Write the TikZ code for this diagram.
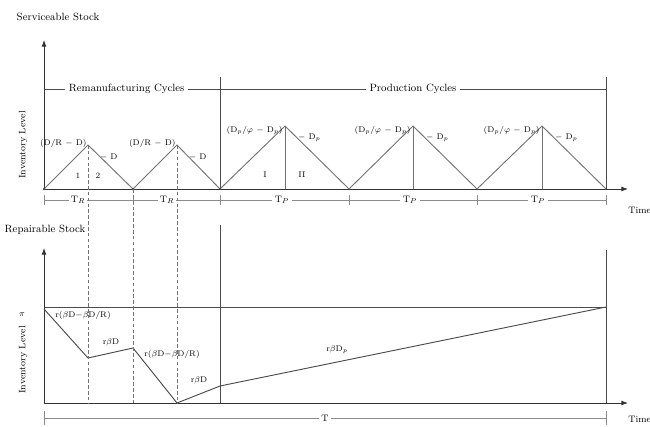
\documentclass[tikz,border=0pt]{standalone}
\usepackage{amsmath}
\usepackage{xcolor}
\usepackage{tikz}
\usetikzlibrary{arrows.meta,positioning}
\tikzset{
  axisline/.style={-{Latex[length=2mm]},thick,draw=black!80},
  stockline/.style={thick,draw=black!55},
  guideline/.style={densely dashed,draw=black!55},
  divider/.style={thick,draw=black!70},
  dimline/.style={thick,draw=black!45},
  lbl/.style={font=\scriptsize,inner sep=1pt},
  cyclbl/.style={font=\small,fill=white,inner sep=3pt},
  dimlbl/.style={font=\footnotesize,fill=white,inner sep=2pt}
}
\begin{document}
\begin{tikzpicture}[x=0.03cm,y=-0.03cm]
  \useasboundingbox (0,0) rectangle (650,427);

  % serviceable stock
  \node[font=\small] (servtitle) at (58,17) {Serviceable Stock};
  \node[font=\footnotesize,rotate=90] (servinv) at (23,145) {Inventory Level};
  \coordinate (so) at (44,189);
  \coordinate (sy) at (44,40);
  \coordinate (sx) at (628,189);
  \draw[axisline] (so) -- (sy);
  \draw[axisline] (so) -- (sx);

  % cycle header
  \coordinate (hl) at (44,89);
  \coordinate (hm) at (220,89);
  \coordinate (hr) at (606,89);
  \draw[divider] (220,77) -- (220,189);
  \draw[divider] (606,77) -- (606,189);
  \draw[divider] (hl) -- node[cyclbl,pos=0.47] (remcyc) {Remanufacturing Cycles} (hm);
  \draw[divider] (hm) -- node[cyclbl,pos=0.5] (prodcyc) {Production Cycles} (hr);

  % remanufacturing and production saw teeth
  \coordinate (r0) at (44,189);
  \coordinate (rp1) at (88,145);
  \coordinate (r1) at (133,189);
  \coordinate (rp2) at (177,145);
  \coordinate (r2) at (220,189);
  \coordinate (pp1) at (285,126);
  \coordinate (p1) at (349,189);
  \coordinate (pp2) at (413,126);
  \coordinate (p2) at (477,189);
  \coordinate (pp3) at (542,126);
  \coordinate (p3) at (606,189);
  \draw[stockline] (r0) -- (rp1) -- (r1) -- (rp2) -- (r2) -- (pp1) -- (p1)
    -- (pp2) -- (p2) -- (pp3) -- (p3);
  \foreach \pk in {pp1,pp2,pp3}
    \draw[stockline] (\pk) -- (\pk |- so);
  \foreach \vl in {r0,r1,r2}
    \fill[black!70] (\vl) circle (1.3);

  \foreach \pk/\nm in {rp1/a,rp2/b} {
    \node[lbl,left=0pt of \pk,yshift=1pt] (rl\nm) {(D/R $-$ D)};
    \node[lbl,right=9pt of \pk,yshift=-10pt] (rd\nm) {$-$ D};
  }
  \node[lbl] (one) at (78,176) {1};
  \node[lbl] (two) at (98,176) {2};
  \foreach \pk/\nm in {pp1/a,pp2/b,pp3/c} {
    \node[lbl,left=1pt of \pk,yshift=-4pt] (pl\nm) {(D$_p$/$\varphi$ $-$ D$_p$)};
    \node[lbl,right=10pt of \pk,yshift=-10pt] (pd\nm) {$-$ D$_p$};
  }
  \node[lbl] (ione) at (265,175) {I};
  \node[lbl] (itwo) at (302,175) {II};

  % cycle lengths
  \draw[dimline] (44,200) -- (606,200);
  \foreach \tx in {44,133,220,349,477,606}
    \draw[dimline] (\tx,195) -- (\tx,205);
  \node[dimlbl] (tr1) at (78,200) {T$_R$};
  \node[dimlbl] (tr2) at (167,200) {T$_R$};
  \node[dimlbl] (tp1) at (282,200) {T$_P$};
  \node[dimlbl] (tp2) at (410,200) {T$_P$};
  \node[dimlbl] (tp3) at (538,200) {T$_P$};
  \node[font=\footnotesize,anchor=west,inner sep=1pt] (stime) at (627,210) {Time};

  % repairable stock
  \node[font=\small] (reptitle) at (45,230) {Repairable Stock};
  \node[font=\footnotesize,rotate=90] (repinv) at (23,360) {Inventory Level};
  \node[lbl] (pistart) at (22,315) {$\pi$};
  \coordinate (bo) at (44,403);
  \coordinate (by) at (44,248);
  \coordinate (bx) at (628,403);
  \draw[axisline] (bo) -- (by);
  \draw[axisline] (bo) -- (bx);
  \draw[divider] (220,225) -- (220,403);
  \draw[divider] (606,250) -- (606,403);
  \coordinate (lv0) at (44,307);
  \coordinate (lv1) at (606,307);
  \draw[divider] (lv0) -- (lv1);

  \coordinate (q0) at (44,309);
  \coordinate (q1) at (88,358);
  \coordinate (q2) at (133,348);
  \coordinate (q3) at (177,403);
  \coordinate (q4) at (220,386);
  \draw[stockline,draw=black!70] (q0) -- (q1) -- (q2) -- (q3) -- (q4) -- (lv1);
  \node[lbl] (ql1) at (83,315) {r($\beta$D$-$$\beta$D/R)};
  \node[lbl] (ql2) at (111,342) {r$\beta$D};
  \node[lbl] (ql3) at (172,354) {r($\beta$D$-$$\beta$D/R)};
  \node[lbl] (ql4) at (199,380) {r$\beta$D};
  \node[lbl] (ql5) at (337,350) {r$\beta$D$_p$};

  % dashed guides
  \draw[guideline] (rp1) -- (rp1 |- bo);
  \draw[guideline] (r1) -- (r1 |- bo);
  \draw[guideline] (rp2) -- (rp2 |- bo);

  % horizon
  \draw[dimline] (44,418) -- node[dimlbl] (horizon) {T} (606,418);
  \draw[dimline] (44,411) -- (44,425);
  \draw[dimline] (606,411) -- (606,425);
  \node[font=\footnotesize,anchor=west,inner sep=1pt] (btime) at (627,419) {Time};
\end{tikzpicture}
\end{document}
